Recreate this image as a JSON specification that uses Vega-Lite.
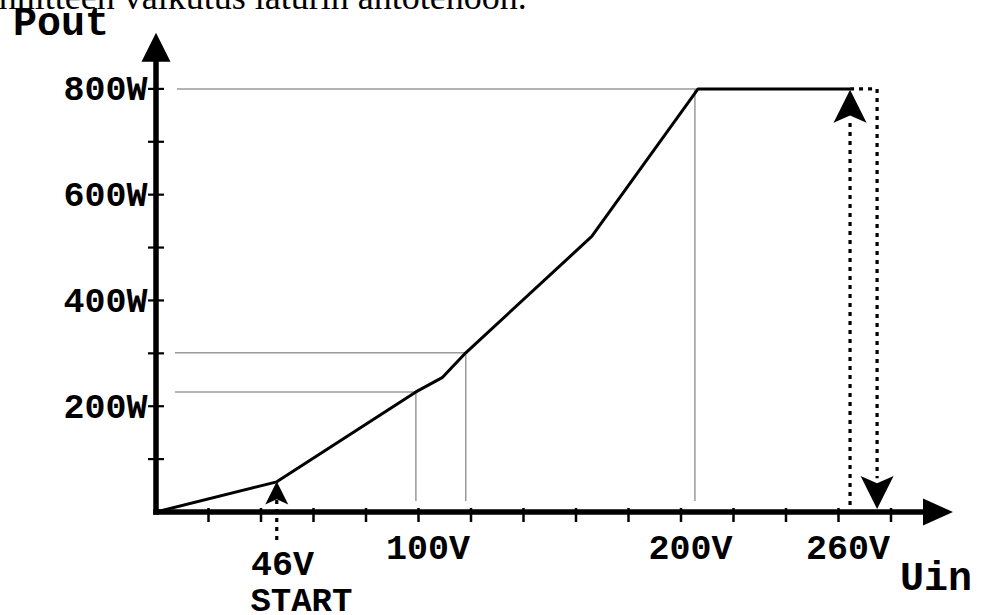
{
  "$schema": "https://vega.github.io/schema/vega-lite/v6.json",
  "width": 798,
  "height": 476,
  "autosize": {"type": "none"},
  "padding": {"left": 156, "top": 36, "right": 30, "bottom": 103},
  "background": "white",
  "config": {"view": {"stroke": null}},
  "datasets": {
    "curve": [
      {"V": 0, "P": 0}, {"V": 46, "P": 57}, {"V": 99, "P": 227}, {"V": 109, "P": 254},
      {"V": 118, "P": 301}, {"V": 166, "P": 521}, {"V": 206.5, "P": 800}, {"V": 264.4, "P": 800}
    ],
    "gray": [
      {"V": 7.2, "P": 227, "V2": 99, "P2": 227},
      {"V": 99, "P": 227, "V2": 99, "P2": 21},
      {"V": 7.2, "P": 301, "V2": 118, "P2": 301},
      {"V": 118, "P": 301, "V2": 118, "P2": 21},
      {"V": 8, "P": 800, "V2": 206.5, "P2": 800},
      {"V": 205.3, "P": 800, "V2": 205.3, "P2": 21}
    ],
    "dotted": [
      {"V": 46, "P": -53, "V2": 46, "P2": 24},
      {"V": 264.4, "P": 13, "V2": 264.4, "P2": 740},
      {"V": 264.4, "P": 800, "V2": 274.7, "P2": 800},
      {"V": 274.7, "P": 800, "V2": 274.7, "P2": 64}
    ],
    "axislines": [
      {"V": 0, "P": 0, "V2": 293, "P2": 0},
      {"V": 0, "P": 0, "V2": 0, "P2": 858}
    ],
    "arrows": [
      {"name": "yaxis", "V": 0, "P": 878.5},
      {"name": "xaxis", "V": 297.9, "P": 0},
      {"name": "start", "V": 46, "P": 36},
      {"name": "up", "V": 264.4, "P": 767},
      {"name": "down", "V": 274.7, "P": 37}
    ],
    "xticks": [
      {"V": 20, "P": 0}, {"V": 40, "P": 0}, {"V": 60, "P": 0}, {"V": 80, "P": 0}, {"V": 100, "P": 0},
      {"V": 120, "P": 0}, {"V": 140, "P": 0}, {"V": 160, "P": 0}, {"V": 180, "P": 0}, {"V": 200, "P": 0},
      {"V": 220, "P": 0}, {"V": 240, "P": 0}, {"V": 260, "P": 0}, {"V": 280, "P": 0}
    ],
    "yticks": [
      {"V": 0, "P": 100}, {"V": 0, "P": 200}, {"V": 0, "P": 300}, {"V": 0, "P": 400},
      {"V": 0, "P": 500}, {"V": 0, "P": 600}, {"V": 0, "P": 700}, {"V": 0, "P": 800}
    ],
    "labels": [
      {"role": "big", "t": "Pout", "V": -54.5, "P": 902},
      {"role": "big", "t": "Uin", "V": 283.4, "P": -147.5},
      {"role": "mid", "t": "46V", "V": 48.2, "P": -119},
      {"role": "small", "t": "START", "V": 55.4, "P": -187},
      {"role": "caption", "t": "Tulojännitteen vaikutus laturin antotehoon.", "V": -95.2, "P": 951}
    ]
  },
  "encoding": {
    "x": {
      "field": "V", "type": "quantitative",
      "scale": {"domain": [0, 304], "nice": false, "zero": false},
      "axis": {
        "values": [100, 200, 260], "labelExpr": "datum.value + 'V'", "title": null,
        "ticks": false, "domain": false, "grid": false,
        "labelFont": "Liberation Mono", "labelFontWeight": "bold", "labelFontSize": 35,
        "labelColor": "black", "labelPadding": 46, "labelBaseline": "alphabetic",
        "labelOffset": 9
      }
    },
    "y": {
      "field": "P", "type": "quantitative",
      "scale": {"domain": [0, 900], "nice": false, "zero": false},
      "axis": {
        "values": [200, 400, 600, 800], "labelExpr": "datum.value + 'W'", "title": null,
        "ticks": false, "domain": false, "grid": false,
        "labelFont": "Liberation Mono", "labelFontWeight": "bold", "labelFontSize": 35,
        "labelColor": "black", "labelPadding": 9, "labelBaseline": "middle"
      }
    }
  },
  "layer": [
    {
      "data": {"name": "gray"},
      "mark": {"type": "rule", "stroke": "#9a9a9a", "strokeWidth": 1.5},
      "encoding": {"x2": {"field": "V2"}, "y2": {"field": "P2"}}
    },
    {
      "data": {"name": "dotted"},
      "mark": {"type": "rule", "stroke": "black", "strokeWidth": 3.2, "strokeDash": [4, 5]},
      "encoding": {"x2": {"field": "V2"}, "y2": {"field": "P2"}}
    },
    {
      "data": {"name": "curve"},
      "mark": {"type": "line", "stroke": "black", "strokeWidth": 3, "strokeJoin": "round"},
      "encoding": {"order": {"field": "V", "type": "quantitative"}}
    },
    {
      "data": {"name": "axislines"},
      "mark": {"type": "rule", "stroke": "black", "strokeWidth": 5.5, "strokeCap": "square"},
      "encoding": {"x2": {"field": "V2"}, "y2": {"field": "P2"}}
    },
    {
      "data": {"name": "xticks"},
      "mark": {"type": "tick", "orient": "vertical", "color": "black", "size": 14, "thickness": 2.5, "yOffset": 3, "opacity": 1}
    },
    {
      "data": {"name": "yticks"},
      "mark": {"type": "tick", "orient": "horizontal", "color": "black", "size": 16, "thickness": 2.2, "opacity": 1}
    },
    {
      "data": {"name": "arrows"},
      "transform": [{"filter": "datum.name === 'yaxis'"}],
      "mark": {"type": "point", "filled": true, "fill": "black", "strokeWidth": 0, "opacity": 1, "shape": "M0,-1L1,1L-1,1Z", "size": 841}
    },
    {
      "data": {"name": "arrows"},
      "transform": [{"filter": "datum.name === 'xaxis'"}],
      "mark": {"type": "point", "filled": true, "fill": "black", "strokeWidth": 0, "opacity": 1, "shape": "M1,0L-1,-0.9L-1,0.9Z", "size": 900}
    },
    {
      "data": {"name": "arrows"},
      "transform": [{"filter": "datum.name === 'start'"}],
      "mark": {"type": "point", "filled": true, "fill": "black", "strokeWidth": 0, "opacity": 1, "shape": "M0,-1L1,1L0,0.55L-1,1Z", "size": 529}
    },
    {
      "data": {"name": "arrows"},
      "transform": [{"filter": "datum.name === 'up'"}],
      "mark": {"type": "point", "filled": true, "fill": "black", "strokeWidth": 0, "opacity": 1, "shape": "M0,-1L1,1L0,0.55L-1,1Z", "size": 1089}
    },
    {
      "data": {"name": "arrows"},
      "transform": [{"filter": "datum.name === 'down'"}],
      "mark": {"type": "point", "filled": true, "fill": "black", "strokeWidth": 0, "opacity": 1, "shape": "M0,1L1,-1L0,-0.55L-1,-1Z", "size": 1089}
    },
    {
      "data": {"name": "labels"},
      "transform": [{"filter": "datum.role === 'big'"}],
      "mark": {"type": "text", "font": "Liberation Mono", "fontWeight": "bold", "fontSize": 40, "align": "left", "baseline": "alphabetic", "color": "black"},
      "encoding": {"text": {"field": "t"}}
    },
    {
      "data": {"name": "labels"},
      "transform": [{"filter": "datum.role === 'mid'"}],
      "mark": {"type": "text", "font": "Liberation Mono", "fontWeight": "bold", "fontSize": 35, "align": "center", "baseline": "alphabetic", "color": "black"},
      "encoding": {"text": {"field": "t"}}
    },
    {
      "data": {"name": "labels"},
      "transform": [{"filter": "datum.role === 'small'"}],
      "mark": {"type": "text", "font": "Liberation Mono", "fontWeight": "bold", "fontSize": 34, "align": "center", "baseline": "alphabetic", "color": "black"},
      "encoding": {"text": {"field": "t"}}
    },
    {
      "data": {"name": "labels"},
      "transform": [{"filter": "datum.role === 'caption'"}],
      "mark": {"type": "text", "font": "Liberation Serif", "fontSize": 36, "align": "left", "baseline": "alphabetic", "color": "black"},
      "encoding": {"text": {"field": "t"}}
    }
  ]
}
